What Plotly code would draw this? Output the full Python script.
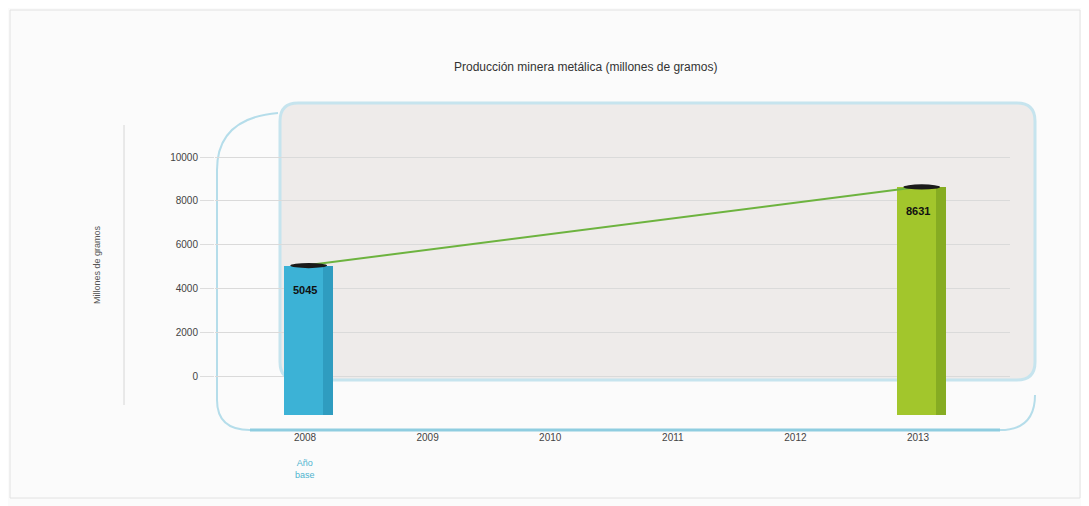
import plotly.graph_objects as go

# Data
YEARS = [2008, 2009, 2010, 2011, 2012, 2013]
BAR_YEARS = [2008, 2013]
BAR_VALUES = [5045, 8631]
BAR_COLORS = ["#3CB2D6", "#A2C62C"]
BAR_SIDE_COLORS = ["#2F9CC0", "#86AC22"]
Y_TICKS = [0, 2000, 4000, 6000, 8000, 10000]
BAR_BASE = -1800

# screen geometry (the page body adds an 8px offset)
W, H = 1089, 506
OFF = 8
L, R, T, B = 215, 79, 100, 76
PW, PH = W - L - R, H - T - B


def px(x):
    return (x - L) / PW


def py(y):
    return (H - B - y) / PH


FONT = "Liberation Sans, Arial"

fig = go.Figure()

# bars (start below zero like the original infographic)
fig.add_trace(go.Bar(
    x=BAR_YEARS,
    y=[v - BAR_BASE for v in BAR_VALUES],
    base=BAR_BASE,
    width=0.4,
    offset=-0.17,
    marker=dict(color=BAR_COLORS, line=dict(width=0)),
    hoverinfo="skip",
    showlegend=False,
))
# darker right side for a slight 3D feel
fig.add_trace(go.Bar(
    x=BAR_YEARS,
    y=[v - BAR_BASE for v in BAR_VALUES],
    base=BAR_BASE,
    width=0.08,
    offset=0.15,
    marker=dict(color=BAR_SIDE_COLORS, line=dict(width=0)),
    hoverinfo="skip",
    showlegend=False,
))

# trend line between bar tops
fig.add_trace(go.Scatter(
    x=BAR_YEARS, y=BAR_VALUES, mode="lines",
    line=dict(color="#6DB33F", width=2),
    hoverinfo="skip", showlegend=False,
))

# dark ellipse caps and value labels
for yr, v in zip(BAR_YEARS, BAR_VALUES):
    fig.add_shape(type="circle", xref="x", yref="y",
                  x0=yr - 0.12, x1=yr + 0.18, y0=v - 120, y1=v + 120,
                  fillcolor="#1a1a1a", line=dict(width=0), layer="above")
    fig.add_annotation(x=yr, y=v, xref="x", yref="y", yshift=-24,
                       text=f"<b>{v}</b>", showarrow=False,
                       font=dict(family=FONT, size=11, color="#111111"))

# inner rounded frame (light gray with blue border)
x0, x1 = px(280), px(1035)
y0, y1 = py(380), py(103)
rx, ry = 18 / PW, 18 / PH
inner = (f"M {x0+rx},{y1} L {x1-rx},{y1} Q {x1},{y1} {x1},{y1-ry} "
         f"L {x1},{y0+ry} Q {x1},{y0} {x1-rx},{y0} L {x0+rx},{y0} "
         f"Q {x0},{y0} {x0},{y0+ry} L {x0},{y1-ry} Q {x0},{y1} {x0+rx},{y1} Z")
fig.add_shape(type="path", xref="paper", yref="paper", path=inner,
              fillcolor="#EEEBEA", line=dict(color="#C6E4EE", width=3), layer="below")

# outer blue curved frame
ox0, ox1 = px(217), px(1035)
oyb, oyt = py(430), py(113)
outer = (f"M {px(278)},{oyt} Q {ox0},{py(118)} {ox0},{py(170)} "
         f"L {ox0},{py(400)} Q {ox0},{oyb} {px(250)},{oyb} "
         f"L {px(1000)},{oyb} Q {ox1},{oyb} {ox1},{py(395)}")
fig.add_shape(type="path", xref="paper", yref="paper", path=outer,
              line=dict(color="#B5DDEA", width=2), layer="below")
fig.add_shape(type="line", xref="paper", yref="paper",
              x0=px(250), x1=px(1000), y0=oyb, y1=oyb,
              line=dict(color="#8FCDE0", width=3), layer="above")

# vertical guide line left of tick labels
fig.add_shape(type="line", xref="paper", yref="paper",
              x0=px(124), x1=px(124), y0=py(405), y1=py(125),
              line=dict(color="#D6D6D6", width=1))

# outer image border
fig.add_shape(type="rect", xref="paper", yref="paper",
              x0=px(10), x1=px(1080), y0=py(498), y1=py(10),
              line=dict(color="#E2E2E2", width=1), layer="below")

fig.add_annotation(text="Producción minera metálica (millones de gramos)",
                   xref="paper", yref="paper", x=px(585), y=py(58),
                   showarrow=False,
                   font=dict(family=FONT, size=12, color="#333333"))
fig.add_annotation(text="Millones de gramos", textangle=-90,
                   xref="paper", yref="paper", x=px(90), y=py(265),
                   showarrow=False,
                   font=dict(family=FONT, size=9, color="#555555"))
fig.add_annotation(text="Año<br>base", xref="x", yref="paper", x=BAR_YEARS[0],
                   y=py(456), yanchor="top", showarrow=False,
                   font=dict(family=FONT, size=9, color="#4FB4CF"))

fig.update_layout(
    width=W - OFF, height=H - OFF,
    margin=dict(l=L - OFF, r=R, t=T - OFF, b=B),
    paper_bgcolor="#FBFBFB",
    plot_bgcolor="rgba(0,0,0,0)",
    barmode="overlay",
    bargap=0,
)
fig.update_xaxes(
    range=[2007.266, 2013.75], tickvals=YEARS, ticktext=[str(y) for y in YEARS],
    showgrid=False, zeroline=False, showline=False, ticks="",
    tickfont=dict(family=FONT, size=10, color="#444444"),
)
fig.update_yaxes(
    range=[-2466, 12603], tickvals=Y_TICKS, ticktext=[str(v) for v in Y_TICKS],
    showgrid=True, gridcolor="#DADADA", gridwidth=1, zeroline=False,
    ticks="outside", ticklen=14, tickcolor="#DDDDDD",
    tickfont=dict(family=FONT, size=10, color="#444444"),
)

fig.write_html("out.html")
